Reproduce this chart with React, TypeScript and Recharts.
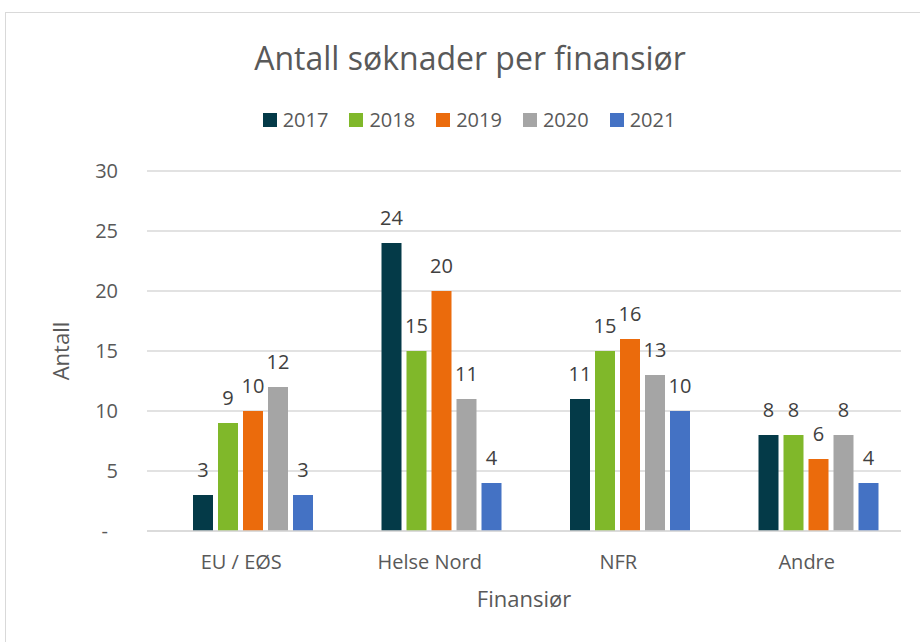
import React from 'react';
import {
  BarChart, Bar, XAxis, YAxis, CartesianGrid, Legend, LabelList, Label
} from 'recharts';

const categories = ['EU / EØS', 'Helse Nord', 'NFR', 'Andre'];
const years = ['2017', '2018', '2019', '2020', '2021'];
const v2017 = [3, 24, 11, 8];
const v2018 = [9, 15, 15, 8];
const v2019 = [10, 20, 16, 6];
const v2020 = [12, 11, 13, 8];
const v2021 = [3, 4, 10, 4];
const yTicks = [0, 5, 10, 15, 20, 25, 30];

const COLORS = ['#043a48', '#80b82a', '#eb6b0c', '#a5a5a5', '#4472c4'];
const FONT = '"Open Sans", sans-serif';

const series = [v2017, v2018, v2019, v2020, v2021];
const data = categories.map((name, i) => {
  const row: Record<string, string | number> = { name };
  years.forEach((y, s) => { row[y] = series[s][i]; });
  return row;
});

function LegendContent() {
  return (
    <div style={{ display: 'flex', justifyContent: 'center', fontFamily: FONT, fontSize: 20, color: '#595959' }}>
      {years.map((y, i) => (
        <div key={y} style={{ display: 'flex', alignItems: 'center', marginRight: i < years.length - 1 ? 21 : 0 }}>
          <span style={{ width: 14, height: 14, background: COLORS[i], marginRight: 6, display: 'inline-block' }} />
          <span>{y}</span>
        </div>
      ))}
    </div>
  );
}

// accounting style: zero shown as a dash, set a bit left of the numbers
function YTick(props: any) {
  const { x, y, payload } = props;
  const zero = payload.value === 0;
  return (
    <text x={zero ? x - 10 : x} y={y} dy="0.355em" textAnchor="end" fill="#595959" fontSize={20}>
      {zero ? '-' : payload.value}
    </text>
  );
}

export default function App() {
  return (
    <div style={{ position: 'absolute', top: 0, left: 0, width: 920, height: 642, overflow: 'hidden', background: '#fff' }}>
      <div style={{ position: 'absolute', left: 5, top: 12, width: 1000, height: 1000, border: '1px solid #d9d9d9' }} />
      <div style={{
        position: 'absolute', top: 36, left: 0, width: 940, textAlign: 'center',
        fontFamily: FONT, fontSize: 32, color: '#595959', lineHeight: '44px'
      }}>
        Antall søknader per finansiør
      </div>
      <BarChart
        width={920}
        height={642}
        data={data}
        margin={{ top: 171, right: 19, left: 0, bottom: 41 }}
        barSize={20}
        barGap={5}
        style={{ position: 'absolute', top: 0, left: 0, fontFamily: FONT }}
      >
        <CartesianGrid vertical={false} stroke="#d9d9d9" strokeWidth={1.5} />
        <XAxis
          dataKey="name"
          height={70}
          padding={{ left: 12, right: -12 }}
          axisLine={{ stroke: '#d9d9d9', strokeWidth: 1.5 }}
          tickLine={false}
          tickSize={0}
          tickMargin={24}
          tick={{ fill: '#595959', fontSize: 20, dx: -12 }}
        >
          <Label value="Finansiør" position="insideBottom" offset={-6} fill="#595959" fontSize={22} />
        </XAxis>
        <YAxis
          width={147}
          domain={[0, 30]}
          ticks={yTicks}
          axisLine={false}
          tickLine={false}
          tickSize={0}
          tickMargin={29}
          tick={<YTick />}
        >
          <Label value="Antall" angle={-90} position="insideLeft" offset={61} fill="#595959" fontSize={22} style={{ textAnchor: 'middle' }} />
        </YAxis>
        <Legend verticalAlign="middle" wrapperStyle={{ top: 106, left: 9, width: 920 }} content={<LegendContent />} />
        {years.map((y, i) => (
          <Bar key={y} dataKey={y} fill={COLORS[i]} isAnimationActive={false}>
            <LabelList dataKey={y} position="top" offset={18} fill="#404040" fontSize={20} />
          </Bar>
        ))}
      </BarChart>
    </div>
  );
}
